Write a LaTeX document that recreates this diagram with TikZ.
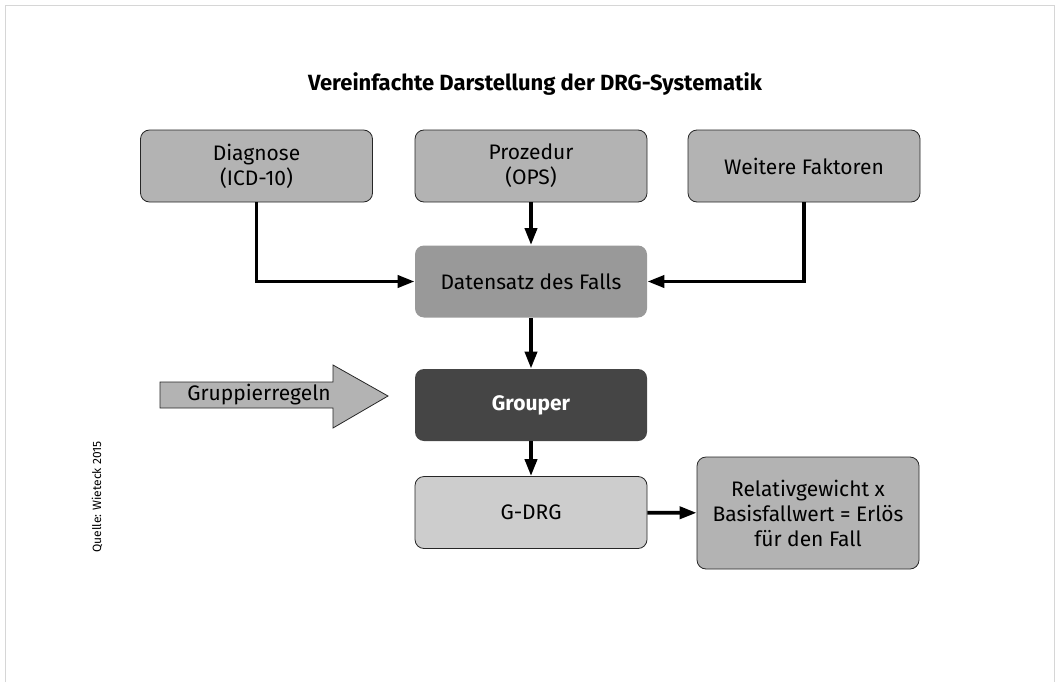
\documentclass[tikz,border=0pt]{standalone}
\usepackage{fontspec}
\setmainfont{Fira Sans}
\usetikzlibrary{arrows.meta, positioning}
\definecolor{boxgray}{HTML}{B3B3B3}
\definecolor{datagray}{HTML}{999999}
\definecolor{darkgray}{HTML}{454545}
\definecolor{lightgray}{HTML}{CDCDCD}
\definecolor{framegray}{HTML}{D6D6D6}
\tikzset{x=1pt, y=-1pt, % pixel-like units, y pointing down
box/.style={ % Sets the properties for each box
rectangle, rounded corners=9pt,
draw=black!85, line width=0.8pt,
fill=boxgray,
minimum width=232pt, minimum height=72pt,
align=center, font=\fontsize{21}{25}\selectfont},
flow/.style={ % Thick arrows between the boxes
draw, line width=3.8pt,
-{Triangle[length=17pt,width=12pt]}}}

\begin{document}
\begin{tikzpicture}

    \useasboundingbox (0,0) rectangle (1056,682);
    \draw[framegray, line width=1.5pt] (5.5,682) -- (5.5,5.5) -- (1054.5,5.5) -- (1054.5,682);

    \node[font=\fontsize{22}{26}\selectfont\bfseries] (title) at (535,84) {Vereinfachte Darstellung der DRG-Systematik};
    \node[rotate=90, font=\fontsize{12}{14}\selectfont] (quelle) at (97,497) {Quelle: Wieteck 2015};

    \node[box] (diag) at (256.5,166) {Diagnose\\(ICD-10)};
    \node[box] (proz) at (531,166) {Prozedur\\(OPS)};
    \node[box] (weitere) at (804,166) {Weitere Faktoren};
    \node[box, draw=none, fill=datagray] (daten) at (531,281.5) {Datensatz des Falls};
    \node[box, draw=none, fill=darkgray, text=white, font=\fontsize{21}{25}\selectfont\bfseries] (grouper) at (531,405) {Grouper};
    \node[box, fill=lightgray] (gdrg) at (531,512.5) {G-DRG};
    \node[box, minimum width=222pt, minimum height=112pt] (erloes) at (808,513) {Relativgewicht x\\Basisfallwert = Erlös\\für den Fall};

    % block arrow for the rules
    \draw[fill=boxgray, draw=black!85, line width=0.8pt] (160,382) -- (333,382) -- (333,365) -- (388,396) -- (333,428) -- (333,408) -- (160,408) -- cycle;
    \node[font=\fontsize{21}{25}\selectfont] (regeln) at (259,395) {Gruppierregeln};

    \draw[flow] (diag.south) |- (daten.west);
    \draw[flow] (proz) -- (daten);
    \draw[flow] (weitere.south) |- (daten.east);
    \draw[flow] (daten) -- (grouper);
    \draw[flow] (grouper) -- (gdrg);
    \draw[flow] (gdrg) -- (erloes);

\end{tikzpicture}
\end{document}
